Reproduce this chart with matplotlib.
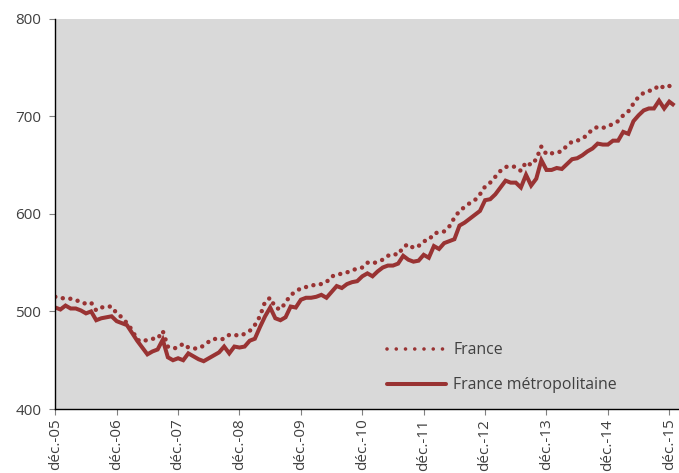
import matplotlib
matplotlib.use("Agg")
import matplotlib.pyplot as plt
from matplotlib.lines import Line2D
import numpy as np

# Monthly values, déc-05 (index 0) onward
france_metro = [504, 502, 506, 503, 503, 501, 498, 500, 491, 493, 494, 495,
                490, 488, 486, 478, 470, 463, 456, 459, 461, 471, 453, 450,
                452, 450, 457, 454, 451, 449, 452, 455, 458, 464, 457, 464,
                463, 464, 470, 472, 484, 495, 504, 493, 491, 494, 505, 504,
                512, 514, 514, 515, 517, 514, 520, 526, 524, 528, 530, 531,
                536, 539, 536, 541, 545, 547, 547, 549, 557, 553, 551, 552,
                558, 555, 567, 564, 570, 572, 574, 588, 591, 595, 599, 603,
                614, 615, 620, 627, 634, 632, 632, 627, 640, 629, 636, 655,
                645, 645, 647, 646, 651, 656, 657, 660, 664, 667, 672, 671,
                671, 675, 675, 684, 682, 695, 701, 706, 708, 708, 716, 708,
                715, 711]
france = [515, 514, 513, 513, 512, 509, 508, 509, 501, 504, 505, 505,
          498, 494, 488, 481, 471, 469, 471, 472, 472, 480, 464, 462,
          463, 467, 463, 462, 462, 465, 469, 472, 471, 472, 476, 476,
          475, 477, 480, 486, 495, 510, 514, 504, 502, 509, 517, 520,
          524, 525, 526, 528, 528, 530, 536, 537, 539, 540, 542, 544,
          545, 550, 549, 551, 553, 557, 559, 558, 566, 569, 565, 567,
          572, 573, 580, 581, 582, 587, 596, 603, 607, 611, 614, 620,
          628, 632, 638, 644, 648, 649, 648, 644, 653, 650, 656, 669,
          661, 662, 663, 664, 670, 674, 675, 677, 681, 687, 689, 688,
          690, 692, 695, 701, 705, 713, 720, 724, 726, 727, 732, 729,
          731, 731]
tick_labels = ["déc.-05", "déc.-06", "déc.-07", "déc.-08", "déc.-09", "déc.-10",
               "déc.-11", "déc.-12", "déc.-13", "déc.-14", "déc.-15"]
y_ticks = [400, 500, 600, 700, 800]

plt.rcParams['font.family'] = ['Open Sans', 'DejaVu Sans']
color = "#993333"
text_color = "#404040"

fig = plt.figure(figsize=(6.79, 4.73), dpi=100)
ax = fig.add_axes([55.3 / 679, 1 - 409 / 473, 1 - 55.3 / 679, (409 - 18.7) / 473])
ax.set_facecolor("#D9D9D9")

x = np.arange(len(france))
ax.plot(x, france, color=color, lw=3.2, linestyle=(0, (0.01, 1.7)),
        dash_capstyle='round')
ax.plot(x, france_metro, color=color, lw=2.9, solid_capstyle='butt',
        solid_joinstyle='miter')

ax.set_xlim(0, 121.9)
ax.set_ylim(400, 800)
ax.set_yticks(y_ticks)
ax.set_yticklabels([str(v) for v in y_ticks], fontsize=11, color=text_color)
ax.set_xticks(np.arange(0, 121, 12))
ax.set_xticklabels(tick_labels, rotation=90, fontsize=11, color=text_color)
ax.tick_params(axis='both', direction='out', length=4, width=0.8, color="#808080")
ax.tick_params(axis='y', pad=6)
ax.tick_params(axis='x', pad=3)

for s in ['top', 'right']:
    ax.spines[s].set_visible(False)
for s in ['left', 'bottom']:
    ax.spines[s].set_color('black')
    ax.spines[s].set_linewidth(1.0)

handles = [
    Line2D([], [], color=color, lw=2.6, linestyle=(0, (0.01, 2.55)), dash_capstyle='round'),
    Line2D([], [], color=color, lw=2.9, solid_capstyle='round'),
]
leg = ax.legend(handles, ["France", "France métropolitaine"],
                loc='upper left',
                bbox_to_anchor=((381 - 55.3) / (679 - 55.3), 1 - (336 - 18.7) / (409 - 18.7)),
                frameon=False, fontsize=11.4, handlelength=3.7, handletextpad=0.45,
                labelspacing=1.2, borderaxespad=0)
for t in leg.get_texts():
    t.set_color(text_color)

fig.savefig("out.png", dpi=100)
